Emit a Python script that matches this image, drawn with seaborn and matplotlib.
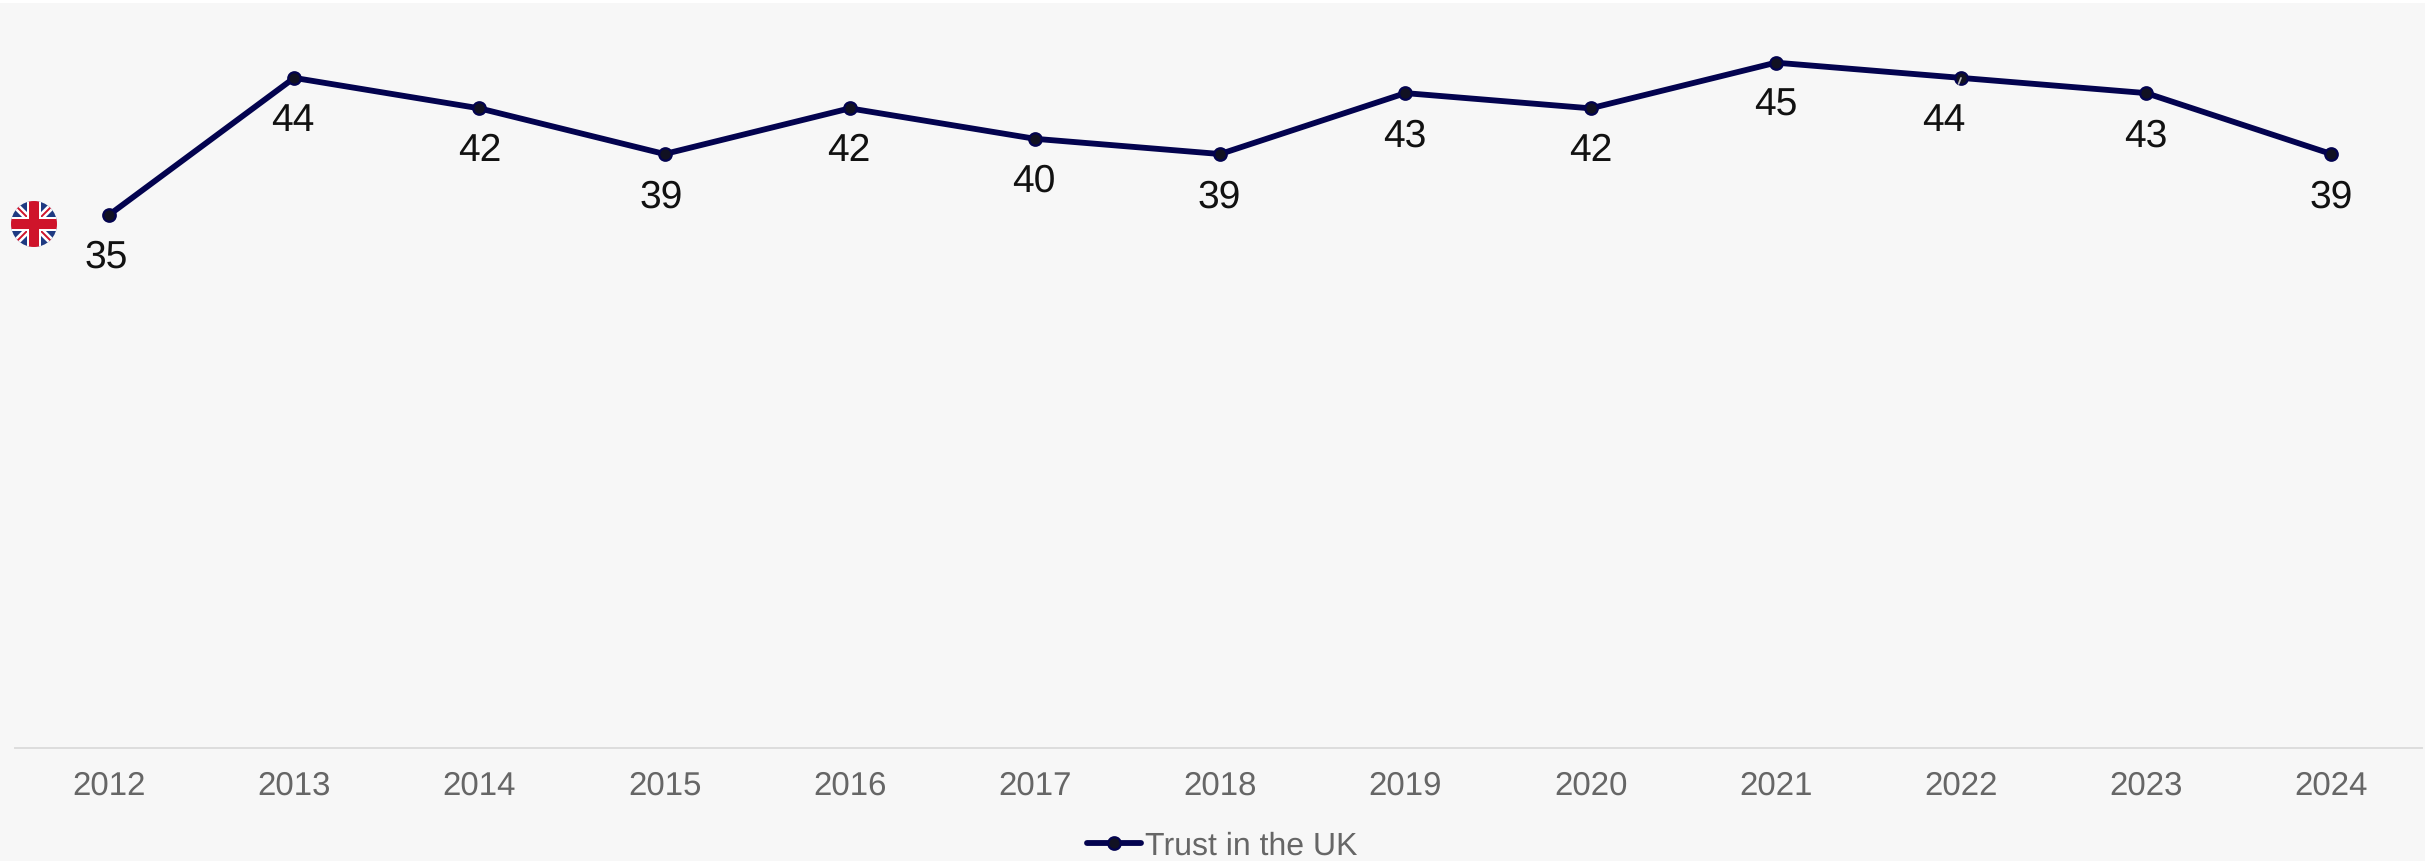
import matplotlib
matplotlib.use("Agg")
import matplotlib.pyplot as plt
from matplotlib.lines import Line2D
from matplotlib.patches import Circle, Rectangle
import pandas as pd
import seaborn as sns

years = [2012, 2013, 2014, 2015, 2016, 2017, 2018, 2019, 2020, 2021, 2022, 2023, 2024]
trust = [35, 44, 42, 39, 42, 40, 39, 43, 42, 45, 44, 43, 39]
series_name = "Trust in the UK"
# the 2022 label sits to the left of its point, joined by a short leader
label_shift_x = {2012: -3, 2013: -1, 2015: -3, 2016: -1, 2017: -1, 2018: -1, 2019: -1, 2022: -17}

W, H = 2425, 861
BG = "#f7f7f7"
NAVY = "#03034f"
DOT = "#111122"
GREY = "#666666"
AX_L, AX_R, AX_T, AX_B = 15, 2422, 3, 748
X0, STEP = 109, 185.2
PER_UNIT = 15.23

sns.set_theme(style="white")
plt.rcParams["font.family"] = ["Liberation Sans", "DejaVu Sans"]
plt.rcParams["text.hinting"] = "no_hinting"
plt.rcParams["text.hinting_factor"] = 1

fig = plt.figure(figsize=(W / 100, H / 100), dpi=100, facecolor=BG)
fig.add_artist(Rectangle((0, 1 - 3 / H), 1, 3 / H, transform=fig.transFigure,
                         facecolor="white", edgecolor="none"))
ax = fig.add_axes([AX_L / W, 1 - AX_B / H, (AX_R - AX_L) / W, (AX_B - AX_T) / H])
ax.set_facecolor("none")

df = pd.DataFrame({"year": years, "trust": trust})
sns.lineplot(data=df, x="year", y="trust", ax=ax, color=NAVY, linewidth=4.2,
             marker="o", markersize=9, markerfacecolor=DOT, markeredgecolor=NAVY,
             markeredgewidth=1.6, errorbar=None, clip_on=False, legend=False)

ax.set_xlim(2012 + (AX_L - X0) / STEP, 2012 + (AX_R - X0) / STEP)
ax.set_ylim(0, (AX_B - AX_T) / PER_UNIT)
ax.set_xticks(years)
ax.set_xticklabels([str(y) for y in years])
ax.set_yticks([])
ax.set_xlabel("")
ax.set_ylabel("")
ax.tick_params(axis="x", length=0, pad=16.5, labelsize=24, labelcolor=GREY)
for side in ("top", "left", "right"):
    ax.spines[side].set_visible(False)
ax.spines["bottom"].set_color("#dddddd")
ax.spines["bottom"].set_linewidth(1.4)

# value labels below each point, offsets given in points
for y, v in zip(years, trust):
    dx = label_shift_x.get(y, 0) * 0.72
    arrow = None
    if y == 2022:
        arrow = dict(arrowstyle="-", color="#bbbbbb", lw=1.2, shrinkA=12, shrinkB=0)
    ax.annotate(str(v), xy=(y, v), xytext=(dx, -31), textcoords="offset points",
                ha="center", va="center", fontsize=28, color="#111111",
                arrowprops=arrow, zorder=5)

# round Union flag beside the first point
flag = fig.add_axes([11 / W, 1 - 247 / H, 46 / W, 46 / H])
flag.set_xlim(-1, 1)
flag.set_ylim(-1, 1)
flag.axis("off")
disc = Circle((0, 0), 1, facecolor="#1f3a82", edgecolor="none", zorder=1)
flag.add_patch(disc)
for sx in (1, -1):
    for colour, width, z in (("white", 5.0, 2), ("#cf142b", 1.4, 3)):
        ln = Line2D([-1.2, 1.2], [-1.2 * sx, 1.2 * sx], color=colour, lw=width,
                    solid_capstyle="butt", zorder=z)
        flag.add_line(ln)
        ln.set_clip_path(disc)
for colour, half, z in (("white", 0.32, 4), ("#cf142b", 0.22, 5)):
    for bar in ((-1, -half, 2, 2 * half), (-half, -1, 2 * half, 2)):
        r = flag.add_patch(Rectangle(bar[:2], bar[2], bar[3], facecolor=colour,
                                     edgecolor="none", zorder=z))
        r.set_clip_path(disc)

handle = Line2D([], [], color=NAVY, lw=4.2, marker="o", markersize=9, solid_capstyle="round",
                markerfacecolor=DOT, markeredgecolor=NAVY, markeredgewidth=1.6)
leg = fig.legend([handle], [series_name], loc="center",
                 bbox_to_anchor=(1222 / W, 1 - 846 / H), frameon=False, fontsize=23.4,
                 labelcolor=GREY, handlelength=1.67, handletextpad=0.12,
                 borderpad=0, borderaxespad=0)

fig.savefig("out.png", dpi=100, facecolor=BG)
